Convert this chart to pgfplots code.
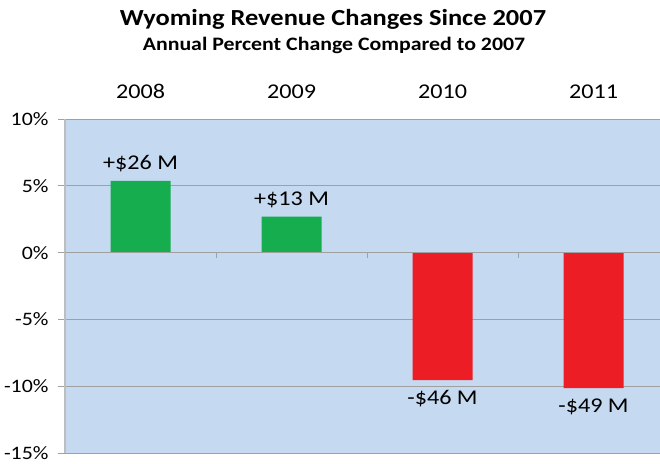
\documentclass[border=0pt]{standalone}
\usepackage{fontspec}
\setmainfont{Carlito}[FakeStretch=1.15]
\usepackage{pgfplots}
\pgfplotsset{compat=1.18}
\definecolor{bg}{RGB}{197,217,241}
\definecolor{grn}{RGB}{21,173,78}
\definecolor{rd}{RGB}{237,29,37}
\definecolor{gridc}{RGB}{160,160,160}
\definecolor{axc}{RGB}{190,190,190}
\begin{document}
\begin{tikzpicture}[x=1pt,y=1pt]
\useasboundingbox (0,0) rectangle (660,463);
\node[font=\fontsize{23}{27}\selectfont\bfseries] at (333,444) {Wyoming Revenue Changes Since 2007};
\node[font=\fontsize{19}{23}\selectfont\bfseries] at (334,418) {Annual Percent Change Compared to 2007};
\begin{axis}[
  at={(65pt,10pt)}, anchor=south west,
  scale only axis, width=604pt, height=334pt,
  xmin=-0.5, xmax=3.5, ymin=-15, ymax=10,
  axis background/.style={fill=bg},
  axis x line*=top, x axis line style={draw=none},
  axis y line*=left, y axis line style={draw=axc, line width=1.5pt},
  xtick={0,1,2,3}, xticklabels={2008,2009,2010,2011},
  x tick style={draw=none},
  xticklabel style={anchor=base, yshift=13pt, font=\fontsize{21}{25}\selectfont},
  ytick={-15,-10,-5,0,5,10},
  yticklabel={\pgfmathprintnumber{\tick}\%},
  /pgf/number format/assume math mode=true,
  yticklabel style={font=\fontsize{19}{23}\selectfont, xshift=-6pt},
  y tick style={draw=gridc, line width=0.8pt},
  tick align=outside, major tick length=7pt,
  ymajorgrids, grid style={draw=gridc, line width=0.9pt},
  clip=false,
]
\addplot[ybar, bar width=60pt, bar shift=0pt, fill=grn, draw=none,
  nodes near coords, point meta=explicit symbolic,
  nodes near coords style={anchor=base, yshift=11pt, font=\fontsize{21}{25}\selectfont}]
  coordinates {(0,5.37) [+\$26 M] (1,2.7) [+\$13 M]};
\addplot[ybar, bar width=60pt, bar shift=0pt, fill=rd, draw=none,
  nodes near coords, point meta=explicit symbolic,
  nodes near coords style={anchor=north, yshift=-7pt, font=\fontsize{21}{25}\selectfont}]
  coordinates {(2,-9.55) [-\$46 M] (3,-10.15) [-\$49 M]};
\draw[gridc, line width=0.9pt] (axis cs:-0.5,0) -- (axis cs:3.5,0);
\draw[gridc, line width=0.8pt] (axis cs:0.5,0) -- ([yshift=-5pt]axis cs:0.5,0);
\draw[gridc, line width=0.8pt] (axis cs:1.5,0) -- ([yshift=-5pt]axis cs:1.5,0);
\draw[gridc, line width=0.8pt] (axis cs:2.5,0) -- ([yshift=-5pt]axis cs:2.5,0);
\end{axis}
\end{tikzpicture}
\end{document}
